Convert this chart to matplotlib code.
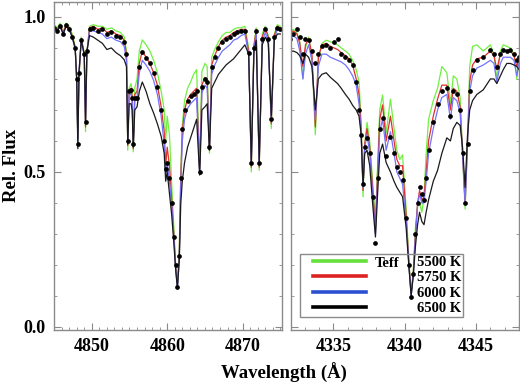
import matplotlib
matplotlib.use("Agg")
import matplotlib.pyplot as plt
from matplotlib.lines import Line2D
from matplotlib.legend_handler import HandlerLine2D
from matplotlib.ticker import MultipleLocator

plt.rcParams['font.family'] = ['Liberation Serif', 'DejaVu Serif']
plt.rcParams['font.weight'] = 'bold'

# ───────────────────────────────────────────────
# H-beta panel (left)
hb_wave = [4845.0, 4845.4, 4845.8, 4846.2, 4846.6, 4847.0, 4847.4, 4847.8, 4848.0, 4848.15,
           4848.3, 4848.6, 4849.0, 4849.17, 4849.35, 4849.7, 4850.2, 4850.8, 4851.4, 4852.0,
           4852.6, 4853.2, 4853.8, 4854.3, 4854.6, 4854.77, 4854.95, 4855.2, 4855.35, 4855.5,
           4855.7, 4856.0, 4856.3, 4856.7, 4857.2, 4857.7, 4858.2, 4858.7, 4859.2, 4859.6,
           4859.8, 4860.0, 4860.3, 4860.6, 4860.9, 4861.1, 4861.35, 4861.6, 4861.8, 4862.0,
           4862.3, 4862.7, 4863.1, 4863.5, 4863.9, 4864.3, 4864.6, 4865.0, 4865.3, 4865.6,
           4865.9, 4866.3, 4866.8, 4867.3, 4867.8, 4868.3, 4868.8, 4869.3, 4869.8, 4870.3,
           4870.8, 4871.15, 4871.5, 4871.8, 4872.2, 4872.6, 4873.0, 4873.4, 4873.8, 4874.2,
           4874.6, 4875.0]
hb_obs = [0.965, 0.955, 0.970, 0.945, 0.975, 0.960, 0.935, 0.900, 0.800, 0.590,
          0.820, 0.925, 0.880, 0.660, 0.890, 0.960, 0.965, 0.955, 0.960, 0.945,
          0.950, 0.940, 0.935, 0.920, 0.880, 0.600, 0.760, 0.765, 0.740, 0.590,
          0.740, 0.740, 0.840, 0.888, 0.867, 0.850, 0.820, 0.775, 0.700, 0.600,
          0.510, 0.530, 0.480, 0.400, 0.290, 0.200, 0.130, 0.230, 0.480, 0.640,
          0.700, 0.730, 0.745, 0.750, 0.760, 0.500, 0.775, 0.800, 0.790, 0.580,
          0.840, 0.870, 0.900, 0.920, 0.930, 0.935, 0.945, 0.950, 0.955, 0.955,
          0.885, 0.530, 0.900, 0.955, 0.530, 0.930, 0.960, 0.930, 0.670, 0.935,
          0.965, 0.960]
hb_5500 = [0.975, 0.965, 0.980, 0.950, 0.980, 0.970, 0.945, 0.905, 0.790, 0.600,
           0.800, 0.935, 0.885, 0.630, 0.880, 0.970, 0.975, 0.970, 0.970, 0.960,
           0.965, 0.955, 0.950, 0.935, 0.890, 0.570, 0.770, 0.785, 0.760, 0.565,
           0.770, 0.800, 0.890, 0.926, 0.910, 0.890, 0.860, 0.820, 0.760, 0.700,
           0.600, 0.680, 0.620, 0.460, 0.310, 0.210, 0.140, 0.250, 0.500, 0.650,
           0.730, 0.770, 0.790, 0.815, 0.830, 0.520, 0.825, 0.850, 0.840, 0.560,
           0.870, 0.895, 0.920, 0.940, 0.950, 0.950, 0.960, 0.965, 0.965, 0.970,
           0.900, 0.500, 0.910, 0.965, 0.505, 0.945, 0.970, 0.940, 0.640, 0.945,
           0.975, 0.970]
hb_5750 = [0.970, 0.960, 0.975, 0.950, 0.975, 0.965, 0.940, 0.900, 0.795, 0.610,
           0.810, 0.930, 0.880, 0.645, 0.885, 0.965, 0.970, 0.960, 0.965, 0.950,
           0.955, 0.945, 0.940, 0.925, 0.880, 0.585, 0.765, 0.770, 0.745, 0.575,
           0.750, 0.760, 0.850, 0.890, 0.870, 0.850, 0.820, 0.780, 0.710, 0.630,
           0.520, 0.580, 0.520, 0.410, 0.290, 0.200, 0.135, 0.230, 0.480, 0.630,
           0.700, 0.735, 0.750, 0.760, 0.770, 0.510, 0.780, 0.805, 0.795, 0.570,
           0.845, 0.875, 0.905, 0.925, 0.935, 0.940, 0.950, 0.955, 0.960, 0.960,
           0.890, 0.515, 0.905, 0.960, 0.515, 0.935, 0.965, 0.935, 0.655, 0.940,
           0.970, 0.965]
hb_6000 = [0.965, 0.955, 0.970, 0.945, 0.970, 0.960, 0.935, 0.895, 0.800, 0.600,
           0.820, 0.925, 0.875, 0.655, 0.885, 0.955, 0.955, 0.950, 0.945, 0.930,
           0.935, 0.925, 0.920, 0.905, 0.860, 0.595, 0.750, 0.750, 0.730, 0.585,
           0.730, 0.740, 0.820, 0.860, 0.845, 0.825, 0.795, 0.750, 0.680, 0.590,
           0.490, 0.530, 0.470, 0.390, 0.280, 0.195, 0.125, 0.220, 0.450, 0.600,
           0.670, 0.705, 0.720, 0.730, 0.740, 0.500, 0.755, 0.780, 0.770, 0.575,
           0.815, 0.845, 0.870, 0.890, 0.900, 0.910, 0.925, 0.930, 0.940, 0.945,
           0.880, 0.525, 0.895, 0.945, 0.525, 0.920, 0.950, 0.920, 0.665, 0.930,
           0.960, 0.955]
hb_6500 = [0.965, 0.955, 0.970, 0.945, 0.970, 0.960, 0.935, 0.900, 0.800, 0.575,
           0.820, 0.925, 0.880, 0.665, 0.890, 0.940, 0.935, 0.925, 0.915, 0.895,
           0.900, 0.885, 0.875, 0.862, 0.840, 0.590, 0.720, 0.720, 0.700, 0.580,
           0.700, 0.710, 0.760, 0.790, 0.760, 0.720, 0.690, 0.655, 0.615, 0.560,
           0.470, 0.500, 0.430, 0.360, 0.265, 0.190, 0.125, 0.215, 0.400, 0.470,
           0.530, 0.580, 0.610, 0.640, 0.670, 0.490, 0.700, 0.710, 0.720, 0.570,
           0.770, 0.790, 0.815, 0.830, 0.845, 0.855, 0.865, 0.880, 0.895, 0.910,
           0.880, 0.530, 0.890, 0.925, 0.535, 0.910, 0.935, 0.915, 0.680, 0.925,
           0.945, 0.945]

# ───────────────────────────────────────────────
# H-gamma panel (right)
hg_wave = [4332.0, 4332.2, 4332.45, 4332.65, 4332.87, 4333.05, 4333.27, 4333.5, 4333.74, 4333.95,
           4334.2, 4334.5, 4334.8, 4335.05, 4335.3, 4335.55, 4335.85, 4336.1, 4336.35, 4336.6,
           4336.8, 4336.95, 4337.08, 4337.2, 4337.36, 4337.55, 4337.75, 4337.95, 4338.1, 4338.25,
           4338.45, 4338.7, 4339.0, 4339.25, 4339.45, 4339.65, 4339.85, 4340.1, 4340.3, 4340.45,
           4340.6, 4340.75, 4340.9, 4341.04, 4341.2, 4341.35, 4341.5, 4341.67, 4342.0, 4342.3,
           4342.6, 4342.95, 4343.2, 4343.4, 4343.65, 4343.88, 4344.05, 4344.23, 4344.4, 4344.55,
           4344.75, 4345.05, 4345.5, 4346.0, 4346.25, 4346.45, 4346.7, 4346.9, 4347.15, 4347.4,
           4347.65, 4347.85, 4348.0]
hg_obs = [0.930, 0.945, 0.960, 0.935, 0.880, 0.930, 0.925, 0.890, 0.850, 0.880,
          0.905, 0.910, 0.900, 0.920, 0.930, 0.880, 0.870, 0.860, 0.845, 0.790,
          0.700, 0.620, 0.460, 0.580, 0.610, 0.560, 0.420, 0.270, 0.480, 0.640,
          0.675, 0.550, 0.614, 0.560, 0.517, 0.500, 0.474, 0.350, 0.200, 0.097,
          0.170, 0.300, 0.400, 0.450, 0.430, 0.410, 0.480, 0.570, 0.660, 0.720,
          0.760, 0.770, 0.680, 0.760, 0.750, 0.700, 0.560, 0.400, 0.590, 0.760,
          0.830, 0.860, 0.870, 0.894, 0.880, 0.840, 0.880, 0.894, 0.890, 0.894,
          0.880, 0.860, 0.870]
hg_5500 = [0.955, 0.960, 0.950, 0.920, 0.800, 0.900, 0.935, 0.870, 0.620, 0.860,
           0.915, 0.925, 0.920, 0.915, 0.910, 0.900, 0.890, 0.880, 0.860, 0.830,
           0.790, 0.660, 0.420, 0.590, 0.660, 0.600, 0.470, 0.340, 0.520, 0.700,
           0.748, 0.625, 0.735, 0.640, 0.570, 0.540, 0.555, 0.380, 0.210, 0.110,
           0.180, 0.320, 0.390, 0.400, 0.370, 0.420, 0.560, 0.670, 0.730, 0.770,
           0.840, 0.820, 0.720, 0.810, 0.800, 0.740, 0.560, 0.380, 0.600, 0.840,
           0.905, 0.910, 0.890, 0.910, 0.880, 0.800, 0.890, 0.910, 0.905, 0.900,
           0.880, 0.800, 0.860]
hg_5750 = [0.950, 0.955, 0.945, 0.915, 0.840, 0.910, 0.930, 0.880, 0.645, 0.870,
           0.910, 0.915, 0.905, 0.900, 0.895, 0.885, 0.875, 0.865, 0.845, 0.800,
           0.750, 0.640, 0.440, 0.590, 0.640, 0.580, 0.450, 0.320, 0.500, 0.670,
           0.716, 0.600, 0.680, 0.600, 0.540, 0.520, 0.520, 0.360, 0.200, 0.105,
           0.175, 0.300, 0.400, 0.440, 0.410, 0.420, 0.500, 0.600, 0.680, 0.735,
           0.780, 0.780, 0.700, 0.770, 0.760, 0.710, 0.560, 0.395, 0.600, 0.790,
           0.845, 0.865, 0.870, 0.890, 0.875, 0.830, 0.880, 0.895, 0.890, 0.890,
           0.875, 0.840, 0.865]
hg_6000 = [0.930, 0.940, 0.930, 0.890, 0.800, 0.880, 0.910, 0.860, 0.670, 0.840,
           0.880, 0.880, 0.870, 0.865, 0.860, 0.855, 0.845, 0.830, 0.810, 0.780,
           0.720, 0.620, 0.450, 0.580, 0.620, 0.560, 0.430, 0.300, 0.470, 0.630,
           0.670, 0.570, 0.630, 0.560, 0.500, 0.480, 0.460, 0.340, 0.195, 0.100,
           0.170, 0.290, 0.390, 0.430, 0.400, 0.400, 0.470, 0.560, 0.640, 0.700,
           0.740, 0.750, 0.670, 0.740, 0.730, 0.690, 0.560, 0.400, 0.600, 0.760,
           0.810, 0.835, 0.845, 0.860, 0.850, 0.790, 0.850, 0.870, 0.870, 0.870,
           0.860, 0.810, 0.850]
hg_6500 = [0.888, 0.890, 0.885, 0.875, 0.850, 0.880, 0.870, 0.840, 0.700, 0.800,
           0.815, 0.820, 0.805, 0.795, 0.785, 0.770, 0.750, 0.735, 0.715, 0.700,
           0.680, 0.620, 0.455, 0.560, 0.570, 0.520, 0.400, 0.290, 0.430, 0.560,
           0.590, 0.530, 0.500, 0.470, 0.450, 0.435, 0.420, 0.320, 0.190, 0.100,
           0.165, 0.260, 0.330, 0.370, 0.340, 0.330, 0.370, 0.410, 0.470, 0.505,
           0.560, 0.610, 0.600, 0.640, 0.660, 0.650, 0.580, 0.450, 0.620, 0.700,
           0.730, 0.750, 0.765, 0.800, 0.800, 0.785, 0.810, 0.830, 0.850, 0.850,
           0.845, 0.840, 0.830]

teff_labels = ["5500 K", "5750 K", "6000 K", "6500 K"]
model_colors = ["#70f040", "#e03030", "#7272ff", "#1a1a1a"]
legend_colors = ["#66e03a", "#dd2222", "#2a4fd0", "#000000"]
grey = "#8a8a8a"

# ───────────────────────────────────────────────
fig = plt.figure(figsize=(5.2, 3.82), dpi=100)
ax1 = fig.add_axes([0.104, 0.136, 0.438, 0.8586])
ax2 = fig.add_axes([0.560, 0.136, 0.438, 0.8586], sharey=ax1)

panels = [
    (ax1, hb_wave, hb_obs, [hb_5500, hb_5750, hb_6000, hb_6500], (4845.0, 4875.2), 10),
    (ax2, hg_wave, hg_obs, [hg_5500, hg_5750, hg_6000, hg_6500], (4332.05, 4348.0), 5),
]

for ax, wave, obs, models, xlim, major in panels:
    for flux, col in zip(models, model_colors):
        ax.plot(wave, flux, color=col, lw=0.9)
    ax.plot(wave, obs, 'o', color='black', ms=3.4, mec='none')
    ax.set_xlim(*xlim)
    ax.set_ylim(-0.01, 1.048)
    ax.xaxis.set_major_locator(MultipleLocator(major))
    ax.xaxis.set_minor_locator(MultipleLocator(1))
    ax.yaxis.set_major_locator(MultipleLocator(0.5))
    ax.yaxis.set_minor_locator(MultipleLocator(0.1))
    ax.tick_params(which='both', direction='in', top=True, right=True, color=grey,
                   labelsize=13, pad=6)
    ax.tick_params(which='major', length=5)
    ax.tick_params(which='minor', length=2.5)
    for sp in ax.spines.values():
        sp.set_color(grey)
        sp.set_linewidth(1.0)

ax1.yaxis.set_major_formatter(plt.FormatStrFormatter('%.1f'))
ax2.tick_params(labelleft=False)

# ───── 범례 (Teff) ─────
handles = [Line2D([], [], color=c, lw=2.6) for c in legend_colors]
leg = ax2.legend(handles, teff_labels, loc='lower left', bbox_to_anchor=(0.04, 0.04),
                 borderaxespad=0, fontsize=10.5, handlelength=4.4, handletextpad=3.5,
                 labelspacing=0.15, borderpad=0.12, framealpha=1, facecolor='none',
                 fancybox=False, edgecolor=grey,
                 handler_map={Line2D: HandlerLine2D(xpad=0.77)})
leg.get_frame().set_linewidth(1.0)
ax2.text(0.368, 0.204, "Teff", transform=ax2.transAxes, fontsize=10.5,
         ha='left', va='center')

fig.text(0.546, -0.002, "Wavelength (Å)", ha='center', va='bottom', fontsize=13.5)
fig.text(0.022, 0.568, "Rel. Flux", ha='center', va='center', rotation=90, fontsize=13.5)

fig.savefig("out.png", dpi=100)
